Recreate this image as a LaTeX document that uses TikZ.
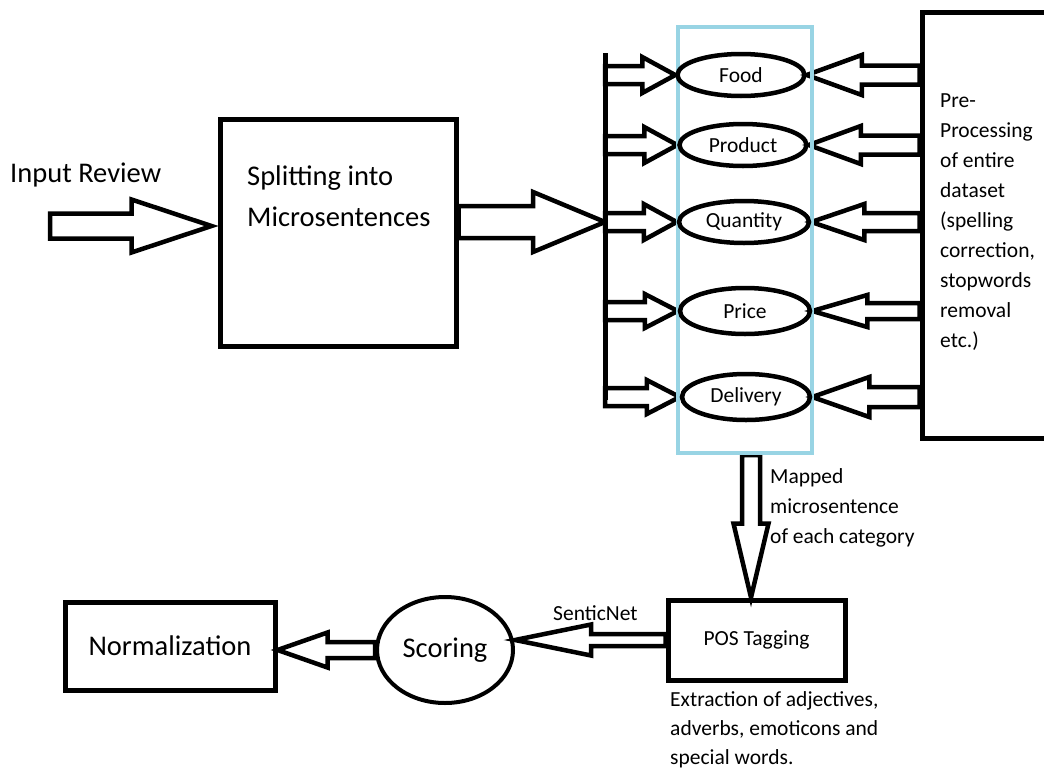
\documentclass[tikz,border=0pt]{standalone}
\usepackage{fontspec}
\setmainfont{Carlito}
\usetikzlibrary{shapes.geometric,calc}
\definecolor{boxblue}{RGB}{152,212,228}
\pgfdeclarelayer{bg}
\pgfsetlayers{bg,main}
% #1 tail, #2 tip, #3 shaft half width, #4 head half width, #5 head length
\newcommand{\blockarr}[5]{%
  \coordinate (ba-h) at ($(#2)!#5!(#1)$);
  \draw[blockarrow] ($(#1)!#3!90:(#2)$) -- ($(ba-h)!#3!-90:(#1)$) -- ($(ba-h)!#4!-90:(#1)$)
    -- (#2) -- ($(ba-h)!#4!90:(#1)$) -- ($(ba-h)!#3!90:(#1)$) -- ($(#1)!#3!-90:(#2)$) -- cycle;}
\tikzset{
  blockarrow/.style={draw=black, fill=white, line width=4.5pt, line join=miter},
  boxs/.style={draw=black, rectangle, line width=5pt, inner sep=0pt},
  ell/.style={ellipse, draw=black, line width=4.5pt, minimum width=127pt, minimum height=42pt, inner sep=0pt, smalltext},
  bigtext/.style={font=\fontsize{28.5}{41}\selectfont},
  smalltext/.style={font=\fontsize{21.5}{30}\selectfont},
}
\begin{document}
\begin{tikzpicture}[x=1pt,y=-1pt]
\useasboundingbox (0,0) rectangle (1044,771);
% texts
\node[anchor=base west, bigtext, inner sep=0pt] (inputtext) at (10,182) {Input Review};
% boxes
\node[boxs, minimum width=236pt, minimum height=227pt] (split) at (338,232.5) {};
\node[anchor=north west, align=left, bigtext, inner sep=0pt] (splittext) at (247,166) {Splitting into\\Microsentences};
\node[draw=boxblue, line width=4pt, rectangle, minimum width=134pt, minimum height=426pt, inner sep=0pt] (cat) at (745,240) {};
\node[ell] (food) at (741,75) {Food};
\node[ell] (product) at (743,145) {Product};
\node[ell, minimum width=130pt] (quantity) at (744,222) {Quantity};
\node[ell, minimum width=130pt, minimum height=46pt] (price) at (745,311) {Price};
\node[ell, minimum width=128pt, minimum height=46pt] (delivery) at (746,397) {Delivery};
\node[boxs, minimum width=130pt, minimum height=426pt] (pre) at (987,225) {};
\node[anchor=north west, align=left, smalltext, inner sep=0pt] (pretext) at (940,94)
  {Pre-\\Processing\\of entire\\dataset\\(spelling\\correction,\\stopwords\\removal\\etc.)};
\node[boxs, minimum width=177pt, minimum height=80pt, smalltext] (pos) at (756.5,640) {POS Tagging};
\node[anchor=north west, align=left, smalltext, inner sep=0pt] (mapped) at (770,468)
  {Mapped\\microsentence\\of each category};
\node[anchor=north west, align=left, font=\fontsize{21.5}{29}\selectfont, inner sep=0pt] (extract) at (670,691)
  {Extraction of adjectives,\\adverbs, emoticons and\\special words.};
\node[ellipse, draw=black, line width=4pt, minimum width=136pt, minimum height=106pt, inner sep=0pt, bigtext] (scoring) at (445,650) {Scoring};
\node[boxs, minimum width=210pt, minimum height=88pt, bigtext] (norm) at (170,646) {Normalization};
\node[anchor=base west, smalltext, inner sep=0pt] (sentic) at (553,620) {SenticNet};
% bar
\coordinate (bartop) at (605,53);
\coordinate (barbot) at (605,400);
\draw[line width=5pt] (bartop) -- (barbot);
% arrows
\coordinate (inTail) at (50,226);
\coordinate (inTip) at ($(split.west |- inTail)+(-6,0)$);
\coordinate (splitOut) at (split.east |- quantity.west);
\coordinate (splitIn) at (bartop |- quantity.west);
\coordinate (b1) at (bartop |- food.west);
\coordinate (b2) at (bartop |- product.west);
\coordinate (b3) at (bartop |- quantity.west);
\coordinate (b4) at (bartop |- price.west);
\coordinate (b5) at (bartop |- delivery.west);
\coordinate (r1) at (pre.west |- food.east);
\coordinate (r2) at (pre.west |- product.east);
\coordinate (r3) at (pre.west |- quantity.east);
\coordinate (r4) at (pre.west |- price.east);
\coordinate (r5) at (pre.west |- delivery.east);
\coordinate (downTail) at ($(cat.south)+(6,0)$);
\coordinate (downTip) at (downTail |- pos.north);
\coordinate (senticTip) at (scoring.east |- pos.west);
\coordinate (normTip) at (norm.east |- scoring.west);
\begin{pgfonlayer}{bg}
\blockarr{inTail}{inTip}{12.5pt}{26.5pt}{80pt}
\blockarr{splitOut}{splitIn}{16pt}{30pt}{72pt}
\blockarr{b1}{food.west}{9pt}{18pt}{33pt}
\blockarr{b2}{product.west}{9pt}{18pt}{33pt}
\blockarr{b3}{quantity.west}{9pt}{18pt}{33pt}
\blockarr{b4}{price.west}{9pt}{17pt}{33pt}
\blockarr{b5}{delivery.west}{9pt}{17pt}{33pt}
\blockarr{r1}{food.east}{9.5pt}{20pt}{55pt}
\blockarr{r2}{product.east}{9.5pt}{19pt}{52pt}
\blockarr{r3}{quantity.east}{9pt}{18pt}{53pt}
\blockarr{r4}{price.east}{8pt}{16pt}{55pt}
\blockarr{r5}{delivery.east}{10pt}{20pt}{57pt}
\blockarr{downTail}{downTip}{9pt}{17.5pt}{74pt}
\blockarr{pos.west}{senticTip}{6pt}{15.5pt}{76pt}
\blockarr{scoring.west}{normTip}{8pt}{17.5pt}{50pt}
\end{pgfonlayer}
\end{tikzpicture}
\end{document}
